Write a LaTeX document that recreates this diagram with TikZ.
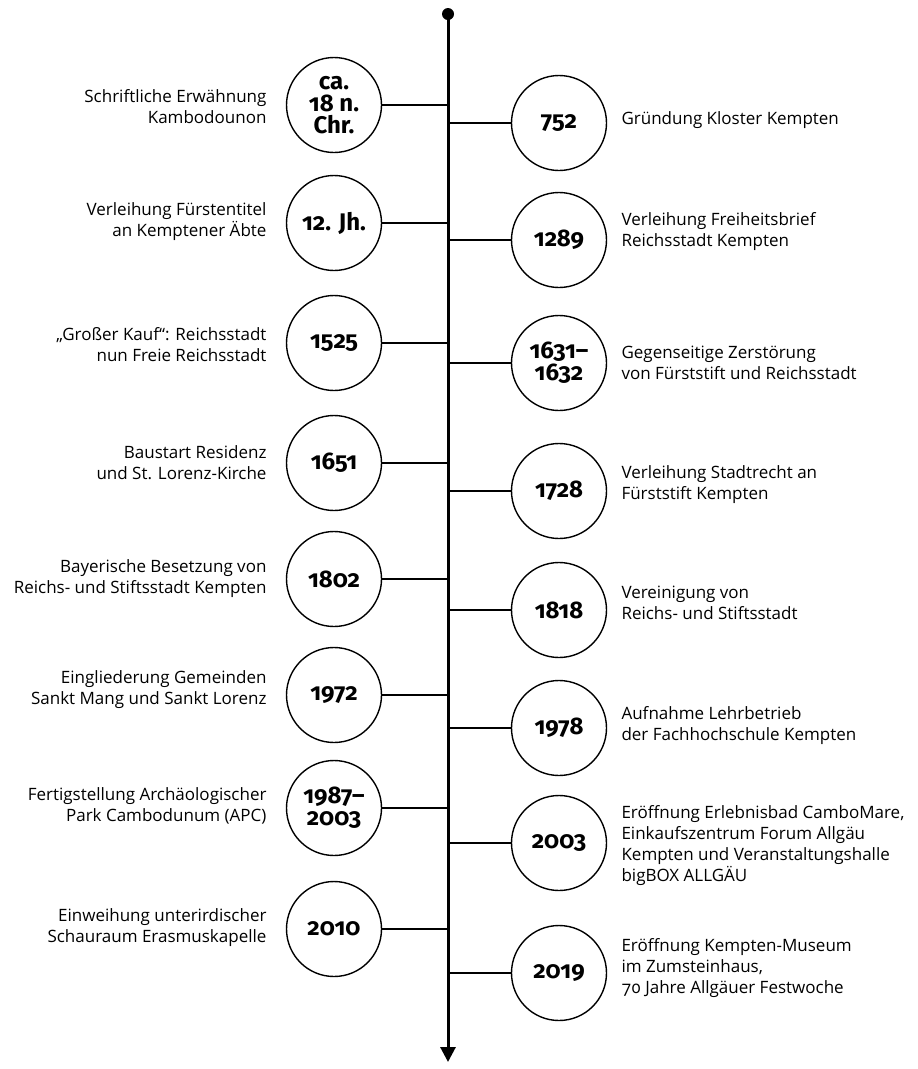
\documentclass[tikz,border=0pt]{standalone}
\usepackage{fontspec}
\setmainfont{Open Sans}[Numbers=OldStyle]
\newfontfamily\yearfont{Fira Sans}[Numbers=OldStyle,Ligatures=TeX]
\usetikzlibrary{arrows.meta}

\begin{document}
\begin{tikzpicture}[x=1pt,y=-1pt,
    year/.style={draw,circle,line width=1.4pt,minimum size=95pt,inner sep=0pt,
      align=center,font=\yearfont\bfseries\fontsize{24}{22}\selectfont},
    lefttext/.style={anchor=east,align=right,font=\fontsize{17}{21}\selectfont},
    righttext/.style={anchor=west,align=left,font=\fontsize{17}{21}\selectfont},
    link/.style={line width=1.2pt}]
    \useasboundingbox (0,0) rectangle (918,1069);

    % Eje del tiempo
    \coordinate (top) at (448,14);
    \coordinate (bottom) at (448,1062);
    \draw[line width=3pt,-{Triangle[length=15pt,width=15pt]}] (top) -- (bottom);
    \fill (top) circle (6pt);

    % Fechas a la izquierda
    \node[year] (l1) at (334,105) {ca.\\18 n.\\Chr.};
    \node[year] (l2) at (334,223) {12. Jh.};
    \node[year] (l3) at (334,343) {1525};
    \node[year] (l4) at (334,463) {1651};
    \node[year] (l5) at (334,579) {1802};
    \node[year] (l6) at (334,695) {1972};
    \node[year] (l7) at (334,808) {1987–\\2003};
    \node[year] (l8) at (334,929) {2010};

    % Fechas a la derecha
    \node[year] (r1) at (559,123) {752};
    \node[year] (r2) at (559,240) {1289};
    \node[year] (r3) at (559,363) {1631–\\1632};
    \node[year] (r4) at (559,491) {1728};
    \node[year] (r5) at (559,610) {1818};
    \node[year] (r6) at (559,728) {1978};
    \node[year] (r7) at (559,843) {2003};
    \node[year] (r8) at (559,973) {2019};

    % Líneas hacia el eje
    \draw[link] (l1.east) -- (l1.east -| top);
    \draw[link] (l2.east) -- (l2.east -| top);
    \draw[link] (l3.east) -- (l3.east -| top);
    \draw[link] (l4.east) -- (l4.east -| top);
    \draw[link] (l5.east) -- (l5.east -| top);
    \draw[link] (l6.east) -- (l6.east -| top);
    \draw[link] (l7.east) -- (l7.east -| top);
    \draw[link] (l8.east) -- (l8.east -| top);
    \draw[link] (r1.west) -- (r1.west -| top);
    \draw[link] (r2.west) -- (r2.west -| top);
    \draw[link] (r3.west) -- (r3.west -| top);
    \draw[link] (r4.west) -- (r4.west -| top);
    \draw[link] (r5.west) -- (r5.west -| top);
    \draw[link] (r6.west) -- (r6.west -| top);
    \draw[link] (r7.west) -- (r7.west -| top);
    \draw[link] (r8.west) -- (r8.west -| top);

    % Textos a la izquierda
    \node[lefttext] (tl1) at (270,107) {Schriftliche Erwähnung\\Kambodounon};
    \node[lefttext] (tl2) at (270,222) {Verleihung Fürstentitel\\an Kemptener Äbte};
    \node[lefttext] (tl3) at (270,345) {„Großer Kauf“: Reichsstadt\\nun Freie Reichsstadt};
    \node[lefttext] (tl4) at (270,463) {Baustart Residenz\\und St. Lorenz-Kirche};
    \node[lefttext] (tl5) at (270,579) {Bayerische Besetzung von\\Reichs- und Stiftsstadt Kempten};
    \node[lefttext] (tl6) at (270,690) {Eingliederung Gemeinden\\Sankt Mang und Sankt Lorenz};
    \node[lefttext] (tl7) at (270,806) {Fertigstellung Archäologischer\\Park Cambodunum (APC)};
    \node[lefttext] (tl8) at (270,928) {Einweihung unterirdischer\\Schauraum Erasmuskapelle};

    % Textos a la derecha
    \node[righttext] (tr1) at (618,120) {Gründung Kloster Kempten};
    \node[righttext] (tr2) at (618,232) {Verleihung Freiheitsbrief\\Reichsstadt Kempten};
    \node[righttext] (tr3) at (618,363) {Gegenseitige Zerstörung\\von Fürststift und Reichsstadt};
    \node[righttext] (tr4) at (618,485) {Verleihung Stadtrecht an\\Fürststift Kempten};
    \node[righttext] (tr5) at (618,603) {Vereinigung von\\Reichs- und Stiftsstadt};
    \node[righttext] (tr6) at (618,726) {Aufnahme Lehrbetrieb\\der Fachhochschule Kempten};
    \node[righttext] (tr7) at (618,846) {Eröffnung Erlebnisbad CamboMare,\\Einkaufszentrum Forum Allgäu\\Kempten und Veranstaltungshalle\\bigBOX ALLGÄU};
    \node[righttext] (tr8) at (618,968) {Eröffnung Kempten-Museum\\im Zumsteinhaus,\\70 Jahre Allgäuer Festwoche};
\end{tikzpicture}
\end{document}
